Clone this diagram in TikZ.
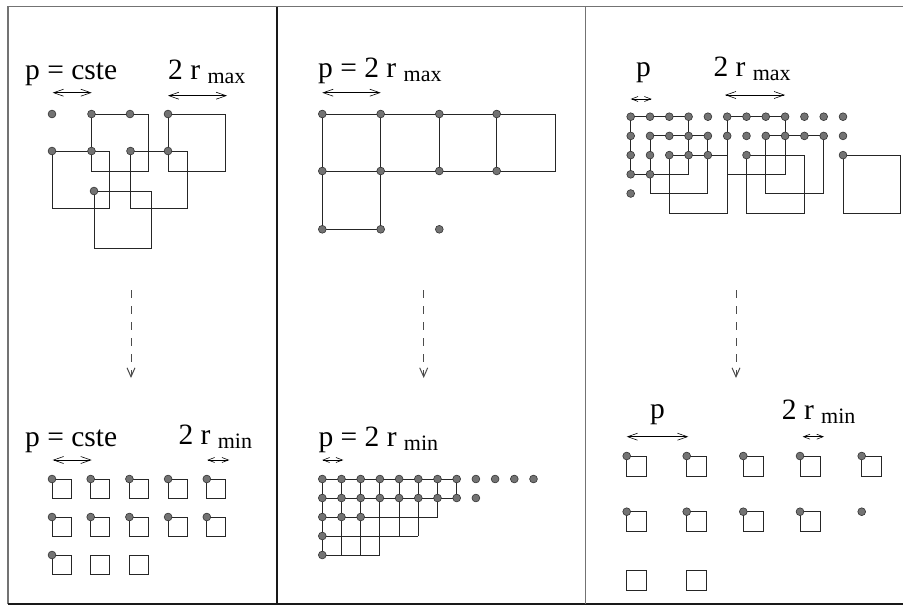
\documentclass[tikz,border=0pt]{standalone}
\usepackage{fontspec}
\setmainfont{Liberation Serif}
\usetikzlibrary{arrows.meta}
\newcommand\subsz{\fontsize{22}{22}\selectfont}
\newcommand\subt[1]{\raisebox{-4pt}{\subsz #1}}
\begin{document}
\begin{tikzpicture}[x=1pt,y=-1pt,
  dot/.style={circle,draw=black!80,fill=black!55,line width=0.6pt,inner sep=0pt,minimum size=7.8pt},
  sq/.style={draw=black!85,line width=0.9pt},
  lbl/.style={anchor=base west,inner sep=0pt,font=\fontsize{29.5}{29.5}\selectfont},
  dimarr/.style={{Straight Barb[length=10pt,width=7pt]}-{Straight Barb[length=10pt,width=7pt]},line width=0.6pt},
  sdimarr/.style={{Straight Barb[length=6.5pt,width=5pt]}-{Straight Barb[length=6.5pt,width=5pt]},line width=0.6pt},
  flow/.style={-{Straight Barb[length=9pt,width=8pt]},dash pattern=on 8pt off 8pt,draw=black!70,line width=1pt},
  framegray/.style={draw=black!55,line width=1.3pt},
  frameblack/.style={draw=black!90,line width=1.1pt}
]
\useasboundingbox (0,0) rectangle (903,606);

% ---------- frame ----------
\coordinate (TL) at (8,6.5);
\coordinate (TR) at (903,6.5);
\coordinate (BL) at (8,604);
\coordinate (BR) at (903,604);
\coordinate (D1t) at (277,6.5);
\coordinate (D1b) at (277,604);
\coordinate (D2t) at (585.5,6.5);
\coordinate (D2b) at (585.5,604);
\draw[framegray] (TR) -- (TL) -- (BL);
\draw[frameblack] (BL) -- (BR);
\draw[frameblack] (D1t) -- (D1b);
\draw[framegray] (D2t) -- (D2b);

% ---------- dashed flow arrows ----------
\coordinate (F1a) at (131,290);  \coordinate (F1b) at (131,378);
\coordinate (F2a) at (423.7,290); \coordinate (F2b) at (423.7,378);
\coordinate (F3a) at (736,290);  \coordinate (F3b) at (736,378);
\draw[flow] (F1a) -- (F1b);
\draw[flow] (F2a) -- (F2b);
\draw[flow] (F3a) -- (F3b);

% ---------- panel 1 (top left) ----------
\node[lbl] (t1a) at (25,79) {p = cste};
\node[lbl] (t1b) at (168,79) {2 r \subt{max}};
\coordinate (a1l) at (52.7,92.7); \coordinate (a1r) at (91.7,92.7);
\coordinate (a2l) at (168,95.7);  \coordinate (a2r) at (227,95.7);
\draw[dimarr] (a1l) -- (a1r);
\draw[dimarr] (a2l) -- (a2r);
\foreach \n/\x/\y in {a/52/114, b/91.5/114, c/130/114, d/168/114,
                      e/52/151, f/91.5/151, g/130.5/151, h/168/151, i/94/191}
  \coordinate (A\n) at (\x,\y);
\foreach \n in {b,d,e,g,i} \draw[sq] (A\n) rectangle ++(57,57);
\foreach \n in {a,b,c,d,e,f,g,h,i} \node[dot] (dA\n) at (A\n) {};

% ---------- panel 2 (top middle) ----------
\node[lbl] (t2a) at (318,77) {p = 2 r \subt{max}};
\coordinate (b1l) at (322.3,92.7); \coordinate (b1r) at (380.7,92.7);
\draw[dimarr] (b1l) -- (b1r);
\foreach \i/\x in {0/322.3,1/380.7,2/439.3,3/496.7,4/555}
  \foreach \j/\y in {0/114,1/171,2/229.3}
    \coordinate (B\i\j) at (\x,\y);
\draw[sq] (B00) -- (B40) -- (B41) -- (B01) -- cycle;
\draw[sq] (B10) -- (B11);
\draw[sq] (B20) -- (B21);
\draw[sq] (B30) -- (B31);
\draw[sq] (B01) -- (B02) -- (B12) -- (B11);
\foreach \i in {0,1,2,3} \node[dot] (dB\i0) at (B\i0) {};
\foreach \i in {0,1,2,3} \node[dot] (dB\i1) at (B\i1) {};
\foreach \i in {0,1,2} \node[dot] (dB\i2) at (B\i2) {};

% ---------- panel 3 (top right) ----------
\node[lbl] (t3a) at (636,76) {p};
\node[lbl] (t3b) at (713.3,76) {2 r \subt{max}};
\coordinate (c1l) at (630.7,99); \coordinate (c1r) at (651.7,99);
\coordinate (c2l) at (725,95);   \coordinate (c2r) at (785,95);
\draw[sdimarr] (c1l) -- (c1r);
\draw[dimarr] (c2l) -- (c2r);
\foreach \i in {0,...,11} \foreach \j in {0,...,4}
  \coordinate (C-\i-\j) at (630.7+19.3*\i,116.7+19.2*\j);
\foreach \i/\j in {0/0,1/1,2/2,5/0,6/2,7/1,11/2}
  \draw[sq] (C-\i-\j) rectangle ++(57.9,57.9);
\foreach \i in {0,...,11} \node[dot] (dC-\i-0) at (C-\i-0) {};
\foreach \i in {0,...,11} \node[dot] (dC-\i-1) at (C-\i-1) {};
\foreach \i in {0,1,2,3,4,6,11} \node[dot] (dC-\i-2) at (C-\i-2) {};
\foreach \i in {0,1} \node[dot] (dC-\i-3) at (C-\i-3) {};
\node[dot] (dC-0-4) at (C-0-4) {};

% ---------- panel 4 (bottom left) ----------
\node[lbl] (t4a) at (25,446.7) {p = cste};
\node[lbl] (t4b) at (178.3,444.3) {2 r \subt{min}};
\coordinate (e1l) at (52.7,460); \coordinate (e1r) at (91.7,460);
\coordinate (e2l) at (207.3,460); \coordinate (e2r) at (229.3,460);
\draw[dimarr] (e1l) -- (e1r);
\draw[sdimarr] (e2l) -- (e2r);
\foreach \i in {0,...,4} \foreach \j in {0,1,2}
  \coordinate (E-\i-\j) at (52+38.7*\i,479+38*\j);
\foreach \i in {0,...,4} \draw[sq] (E-\i-0) rectangle ++(19,19);
\foreach \i in {0,...,4} \draw[sq] (E-\i-1) rectangle ++(19,19);
\foreach \i in {0,1,2} \draw[sq] (E-\i-2) rectangle ++(19,19);
\foreach \i in {0,...,4} \node[dot] (dE-\i-0) at (E-\i-0) {};
\foreach \i in {0,...,4} \node[dot] (dE-\i-1) at (E-\i-1) {};
\node[dot] (dE-0-2) at (E-0-2) {};

% ---------- panel 5 (bottom middle) ----------
\node[lbl] (t5a) at (318.3,446.7) {p = 2 r \subt{min}};
\coordinate (g1l) at (322.3,460); \coordinate (g1r) at (343.3,460);
\draw[sdimarr] (g1l) -- (g1r);
\foreach \i in {0,...,11} \foreach \j in {0,...,4}
  \coordinate (G-\i-\j) at (322.3+19.2*\i,479+19*\j);
\foreach \i/\d in {0/4,1/4,2/4,3/4,4/3,5/3,6/2,7/1}
  \draw[sq] (G-\i-0) -- (G-\i-\d);
\foreach \j/\e in {0/7,1/7,2/6,3/5,4/3}
  \draw[sq] (G-0-\j) -- (G-\e-\j);
\foreach \i in {0,...,11} \node[dot] (dG-\i-0) at (G-\i-0) {};
\foreach \i in {0,...,8} \node[dot] (dG-\i-1) at (G-\i-1) {};
\foreach \i in {0,1,2} \node[dot] (dG-\i-2) at (G-\i-2) {};
\node[dot] (dG-0-3) at (G-0-3) {};
\node[dot] (dG-0-4) at (G-0-4) {};

% ---------- panel 6 (bottom right) ----------
\node[lbl] (t6a) at (650,418.3) {p};
\node[lbl] (t6b) at (781.7,419.3) {2 r \subt{min}};
\coordinate (h1l) at (626.7,436.7); \coordinate (h1r) at (688.3,436.7);
\coordinate (h2l) at (802.7,436.7); \coordinate (h2r) at (824,436.7);
\draw[dimarr] (h1l) -- (h1r);
\draw[sdimarr] (h2l) -- (h2r);
\foreach \i/\x in {0/626.7,1/686.7,2/743.3,3/800,4/861.7}
  \foreach \j/\y in {0/456,1/511.7,2/570.7}
    \coordinate (H-\i-\j) at (\x,\y);
\foreach \i in {0,...,4} \draw[sq] (H-\i-0) rectangle ++(20,20);
\foreach \i in {0,...,3} \draw[sq] (H-\i-1) rectangle ++(20,20);
\foreach \i in {0,1} \draw[sq] (H-\i-2) rectangle ++(20,20);
\foreach \i in {0,...,4} \node[dot] (dH-\i-0) at (H-\i-0) {};
\foreach \i in {0,...,4} \node[dot] (dH-\i-1) at (H-\i-1) {};

\end{tikzpicture}
\end{document}
